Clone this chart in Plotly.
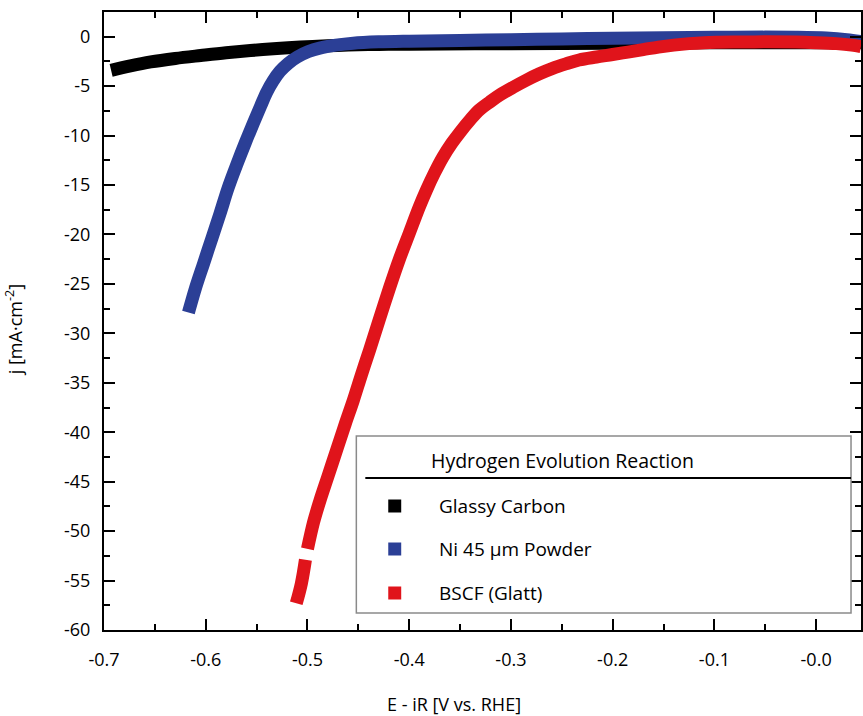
import plotly.graph_objects as go

# ---- data ----
gc_x = [-0.693, -0.674, -0.654, -0.630, -0.605, -0.580, -0.556, -0.530, -0.507, -0.480, -0.460, -0.430, -0.400, -0.300, -0.200, -0.100, 0.000, 0.044]
gc_y = [-3.40, -2.95, -2.55, -2.20, -1.90, -1.62, -1.40, -1.20, -1.05, -0.92, -0.85, -0.78, -0.75, -0.70, -0.66, -0.62, -0.60, -0.60]

ni_x = [-0.617, -0.610, -0.602, -0.594, -0.586, -0.578, -0.569, -0.561, -0.553, -0.546, -0.540, -0.534, -0.527, -0.519, -0.510, -0.499, -0.488, -0.472, -0.455, -0.430, -0.400, -0.350, -0.300, -0.250, -0.200, -0.150, -0.100, -0.050, -0.020, 0.010, 0.030, 0.044]
ni_y = [-27.9, -25.4, -22.9, -20.4, -17.9, -15.3, -12.8, -10.7, -8.7, -7.0, -5.6, -4.5, -3.5, -2.7, -2.05, -1.5, -1.15, -0.85, -0.65, -0.52, -0.45, -0.38, -0.30, -0.22, -0.16, -0.10, -0.06, -0.04, -0.06, -0.14, -0.30, -0.50]

bscf_x = [-0.511, -0.506, -0.502, None, -0.500, -0.494, -0.488, -0.480, -0.471, -0.463, -0.455, -0.447, -0.439, -0.430, -0.419, -0.410, -0.400, -0.390, -0.383, -0.375, -0.367, -0.358, -0.350, -0.340, -0.331, -0.321, -0.311, -0.298, -0.285, -0.272, -0.259, -0.246, -0.233, -0.216, -0.200, -0.185, -0.170, -0.155, -0.140, -0.125, -0.110, -0.096, -0.070, -0.050, -0.020, 0.000, 0.020, 0.035, 0.044]
bscf_y = [-57.3, -55.3, -52.9, None, -51.8, -49.1, -47.0, -44.5, -41.7, -39.2, -36.8, -34.2, -31.7, -28.8, -25.3, -22.6, -19.9, -17.2, -15.5, -13.75, -12.2, -10.75, -9.65, -8.4, -7.4, -6.62, -5.9, -5.12, -4.4, -3.75, -3.2, -2.75, -2.35, -2.05, -1.8, -1.55, -1.3, -1.05, -0.85, -0.70, -0.60, -0.56, -0.53, -0.52, -0.54, -0.60, -0.70, -0.85, -1.00]

series_names = ["Glassy Carbon", "Ni 45 \u00b5m Powder", "BSCF (Glatt)"]
series_colors = ["#000000", "#2b3f96", "#e0141b"]
series_x = [gc_x, ni_x, bscf_x]
series_y = [gc_y, ni_y, bscf_y]

x_ticks = [-0.7, -0.6, -0.5, -0.4, -0.3, -0.2, -0.1, 0.0]
x_ticktext = ["-0.7", "-0.6", "-0.5", "-0.4", "-0.3", "-0.2", "-0.1", "-0.0"]
y_ticks = [0, -5, -10, -15, -20, -25, -30, -35, -40, -45, -50, -55, -60]
y_ticktext = [str(v) for v in y_ticks]

legend_title = "Hydrogen Evolution Reaction"
x_title = "E - iR [V vs. RHE]"
y_title = "j [mA\u00b7cm<sup>-2</sup>]"

FONT = "Open Sans"

fig = go.Figure()
for name, col, xs, ys in zip(series_names, series_colors, series_x, series_y):
    fig.add_trace(go.Scatter(
        x=xs, y=ys, name=name, mode="lines",
        line=dict(color=col, width=13, simplify=False, shape="spline", smoothing=1.0),
        connectgaps=False, showlegend=False, hoverinfo="skip",
    ))

W, H = 863, 716
ML, MR, MT, MB = 104, 0, 12, 86
PW, PH = W - ML - MR, H - MT - MB


def px(xp):
    return (xp - ML) / PW


def py(yp):
    return (H - MB - yp) / PH


shapes = []
annotations = []
# legend box
shapes.append(dict(type="rect", xref="paper", yref="paper",
                   x0=px(357), x1=px(853), y0=py(613), y1=py(436),
                   line=dict(color="#8a8a8a", width=1.5), fillcolor="white", layer="above"))
shapes.append(dict(type="line", xref="paper", yref="paper",
                   x0=px(366), x1=px(853), y0=py(478), y1=py(478),
                   line=dict(color="black", width=2), layer="above"))
annotations.append(dict(text=legend_title, xref="paper", yref="paper",
                        x=px(430), y=py(460), xanchor="left", yanchor="middle",
                        showarrow=False, font=dict(family=FONT, size=19.5, color="black")))
entry_y = [506, 549, 593]
for name, col, ey in zip(series_names, series_colors, entry_y):
    shapes.append(dict(type="rect", xref="paper", yref="paper",
                       x0=px(389), x1=px(402), y0=py(ey + 6.5), y1=py(ey - 6.5),
                       line=dict(width=0), fillcolor=col, layer="above"))
    annotations.append(dict(text=name, xref="paper", yref="paper",
                            x=px(438), y=py(ey), xanchor="left", yanchor="middle",
                            showarrow=False, font=dict(family=FONT, size=19, color="black")))
# axis titles
annotations.append(dict(text=x_title, xref="paper", yref="paper",
                        x=px(455), y=py(704), xanchor="center", yanchor="middle",
                        showarrow=False, font=dict(family=FONT, size=18, color="black")))
annotations.append(dict(text=y_title, xref="paper", yref="paper",
                        x=px(14), y=py(330), xanchor="center", yanchor="middle", textangle=-90,
                        showarrow=False, font=dict(family=FONT, size=18, color="black")))

fig.update_layout(
    width=W, height=H,
    margin=dict(l=ML, r=MR, t=MT, b=MB, pad=0),
    paper_bgcolor="white", plot_bgcolor="white",
    showlegend=False,
    font=dict(family=FONT, size=18, color="black"),
    shapes=shapes, annotations=annotations,
    xaxis=dict(range=[-0.7, -0.7 + PW / 1020.0], tickvals=x_ticks, ticktext=x_ticktext,
               ticks="inside", ticklen=11, tickwidth=2, tickcolor="black",
               showline=True, linecolor="black", linewidth=2, mirror="ticks",
               showgrid=False, zeroline=False, ticklabelstandoff=12,
               minor=dict(dtick=0.05, tick0=0, ticks="inside", ticklen=6, tickwidth=2,
                          tickcolor="black", showgrid=False),
               tickfont=dict(family=FONT, size=18, color="black")),
    yaxis=dict(range=[-60, 2.5], tickvals=y_ticks, ticktext=y_ticktext,
               ticks="inside", ticklen=11, tickwidth=2, tickcolor="black",
               showline=True, linecolor="black", linewidth=2, mirror="ticks",
               showgrid=False, zeroline=False, ticklabelstandoff=8,
               minor=dict(dtick=2.5, tick0=0, ticks="inside", ticklen=6, tickwidth=2,
                          tickcolor="black", showgrid=False),
               tickfont=dict(family=FONT, size=18, color="black")),
)

fig.write_html("out.html", config={"displayModeBar": False},
               post_script="document.body.style.margin='0px';document.body.style.overflow='hidden';")
